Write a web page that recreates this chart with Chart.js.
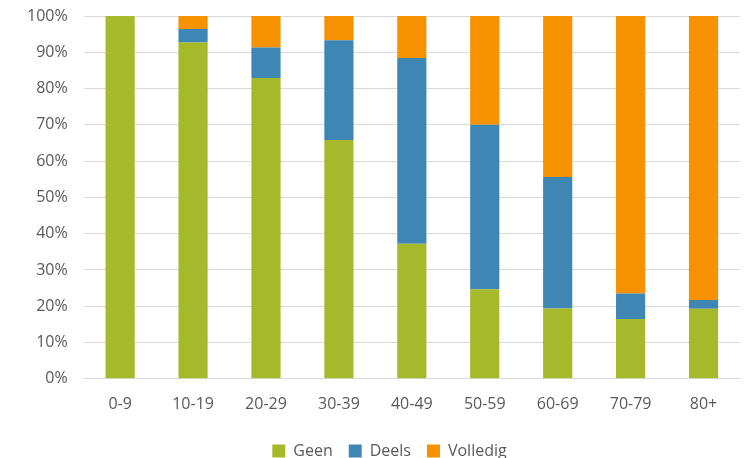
<!DOCTYPE html>
<html>
<head>
<meta charset="utf-8">
<script src="https://cdn.jsdelivr.net/npm/chart.js@4"></script>
<style>
  html, body { margin: 0; padding: 0; background: #fff; }
  #wrap { width: 744px; height: 458px; }
</style>
</head>
<body>
<div id="wrap"><canvas id="grafico" width="744" height="458"></canvas></div>
<script>
const categorias = ['0-9', '10-19', '20-29', '30-39', '40-49', '50-59', '60-69', '70-79', '80+'];
const geen     = [100, 92.7, 82.9, 65.8, 37.2, 24.7, 19.4, 16.5, 19.3];
const deels    = [0, 3.7, 8.4, 27.5, 51.2, 45.3, 36.2, 7.0, 2.4];
const volledig = [0, 3.6, 8.7, 6.7, 11.6, 30.0, 44.4, 76.5, 78.3];

Chart.defaults.font.family = "'Open Sans', 'Liberation Sans', sans-serif";
Chart.defaults.color = '#595959';

// mueve la leyenda un poco a la derecha, como en el original
const moverLeyenda = {
    id: 'moverLeyenda',
    afterLayout(chart) {
        chart.legend.left += 14;
        chart.legend.right += 14;
    }
};

const ctx = document.getElementById('grafico').getContext('2d');
new Chart(ctx, {
    type: 'bar',
    data: {
        labels: categorias,
        datasets: [
            { label: 'Geen', data: geen, backgroundColor: 'rgb(165, 185, 42)' },
            { label: 'Deels', data: deels, backgroundColor: 'rgb(62, 134, 180)' },
            { label: 'Volledig', data: volledig, backgroundColor: 'rgb(246, 146, 0)' }
        ]
    },
    options: {
        responsive: false,
        animation: false,
        layout: { padding: { top: 0, right: 4, left: 11, bottom: -11 } },
        datasets: {
            bar: { barPercentage: 0.4, categoryPercentage: 1.0 }
        },
        scales: {
            x: {
                stacked: true,
                grid: { display: false, drawTicks: false },
                border: { color: '#d9d9d9' },
                ticks: { font: { size: 16 }, padding: 16 },
                afterFit: scale => { scale.height -= 3; }
            },
            y: {
                stacked: true,
                min: 0,
                max: 100,
                ticks: {
                    stepSize: 10,
                    font: { size: 16 },
                    padding: 16,
                    callback: v => v + '%'
                },
                grid: { color: '#d9d9d9', drawTicks: false },
                border: { display: false },
                // el padding de los ticks empuja el area hacia abajo
                afterFit: scale => { scale.paddingTop = 16; }
            }
        },
        plugins: {
            legend: {
                position: 'bottom',
                labels: {
                    boxWidth: 13,
                    boxHeight: 13,
                    padding: 16,
                    font: { size: 16 }
                }
            },
            tooltip: { enabled: false }
        }
    },
    plugins: [moverLeyenda]
});
</script>
</body>
</html>
